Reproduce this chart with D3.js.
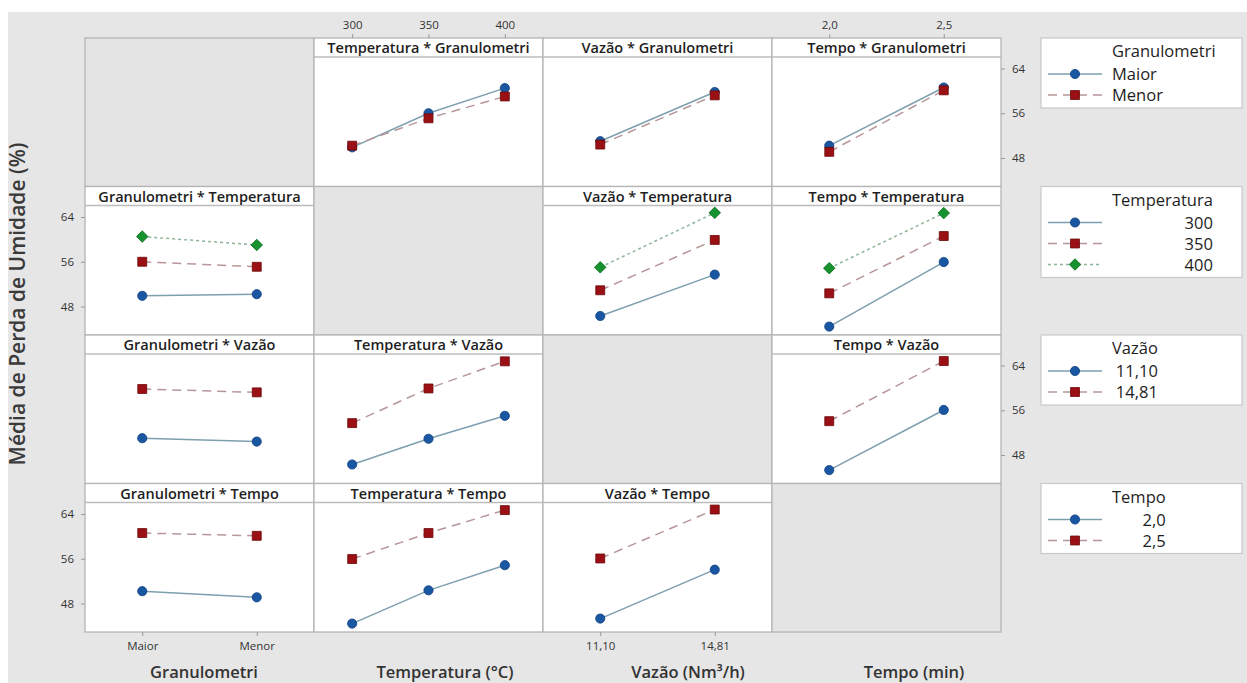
<!DOCTYPE html>
<html><head><meta charset="utf-8">
<script src="https://cdn.jsdelivr.net/npm/d3@7"></script>
<style>
body{margin:0;background:#fff;}
svg{display:block;font-family:"Open Sans",sans-serif;}
</style></head><body>
<svg id="chart" width="1247" height="683"></svg>
<script>
// factors and their levels
const factorNames=["Granulometri","Temperatura","Vazão","Tempo"];
const axisTitles=["Granulometri","Temperatura (°C)","Vazão (Nm³/h)","Tempo (min)"];
const granLevels=["Maior","Menor"];
const tempLevels=["300","350","400"];
const vazaoLevels=["11,10","14,81"];
const tempoLevels=["2,0","2,5"];
const yTicks=[48,56,64];

// mean moisture loss (%) for each pair of factors: rows = first factor, cols = second
const granTemp=[[49.9,56.0,60.5],[50.2,55.1,59.0]];
const granVazao=[[51.0,59.8],[50.4,59.2]];
const granTempo=[[50.2,60.6],[49.1,60.1]];
const tempVazao=[[46.3,53.7],[50.9,59.9],[55.0,64.75]];
const tempTempo=[[44.4,55.95],[50.35,60.6],[54.85,64.7]];
const vazaoTempo=[[45.3,56.05],[54.05,64.8]];

const levels=[granLevels,tempLevels,vazaoLevels,tempoLevels];
const pairMeans={"0-1":granTemp,"0-2":granVazao,"0-3":granTempo,"1-2":tempVazao,"1-3":tempTempo,"2-3":vazaoTempo};

function cellMeans(trace,xf){
  if(trace<xf) return pairMeans[trace+"-"+xf];
  let m=pairMeans[xf+"-"+trace];
  return m[0].map((_,k)=>m.map(r=>r[k]));
}

let svg=d3.select("#chart");
let x0=85,y0=38,cw=229,ch=148.5,strip=19;
let gridW=cw*4,gridH=ch*4;

svg.append("rect").attr("x",8).attr("y",12).attr("width",1239).attr("height",671).attr("fill","#e6e6e6");

let styles=[
  {fill:"#1a57a3",stroke:"#0f3f7d",line:"#7d9fae",dash:null,shape:"circle"},
  {fill:"#9a1014",stroke:"#6b0709",line:"#b79699",dash:"9,6",shape:"square"},
  {fill:"#16932f",stroke:"#0b6a1e",line:"#8db598",dash:"3,3",shape:"diamond"}
];

function marker(g,st,x,y){
  if(st.shape=="circle"){
    g.append("circle").attr("cx",x).attr("cy",y).attr("r",4.6)
      .attr("fill",st.fill).attr("stroke",st.stroke).attr("stroke-width",0.8);
  } else {
    g.append("path").attr("d",d3.symbol(d3.symbolSquare,st.shape=="square"?80:66)())
      .attr("transform","translate("+x+","+y+")"+(st.shape=="diamond"?" rotate(45)":""))
      .attr("fill",st.fill).attr("stroke",st.stroke).attr("stroke-width",0.8);
  }
}

for(let i=0;i<4;i++){
  for(let j=0;j<4;j++){
    let cx=x0+j*cw, cy=y0+i*ch;
    let cell=svg.append("g");
    if(i==j){
      cell.append("rect").attr("x",cx).attr("y",cy).attr("width",cw).attr("height",ch)
        .attr("fill","#e4e4e4").attr("stroke","#b5b5b5").attr("stroke-width",1.3);
      continue;
    }
    cell.append("rect").attr("x",cx).attr("y",cy).attr("width",cw).attr("height",ch)
      .attr("fill","#fff").attr("stroke","#b5b5b5").attr("stroke-width",1.3);
    cell.append("line").attr("x1",cx).attr("x2",cx+cw).attr("y1",cy+strip).attr("y2",cy+strip)
      .attr("stroke","#bdbdbd").attr("stroke-width",1.3);
    cell.append("text").attr("x",cx+cw/2).attr("y",cy+15).attr("text-anchor","middle")
      .attr("font-size",14.5).attr("font-weight",600).attr("fill","#1e1e1e")
      .text(factorNames[j]+" * "+factorNames[i]);

    let xs=d3.scalePoint().domain(levels[j]).range([cx,cx+cw]).padding(0.5);
    let ys=d3.scaleLinear().domain([42.9,66.06]).range([cy+ch,cy+strip]);
    let m=cellMeans(i,j);
    m.forEach(function(row,k){
      let st=styles[k];
      let line=d3.line().x((d,n)=>xs(levels[j][n])).y(d=>ys(d));
      cell.append("path").datum(row).attr("d",line).attr("fill","none")
        .attr("stroke",st.line).attr("stroke-width",1.5)
        .attr("stroke-dasharray",st.dash);
      row.forEach(function(v,n){ marker(cell,st,xs(levels[j][n]),ys(v)); });
    });
  }
}

// x axes (alternating bottom / top)
for(let j=0;j<4;j++){
  let cx=x0+j*cw;
  let xs=d3.scalePoint().domain(levels[j]).range([cx,cx+cw]).padding(0.5);
  let top=(j%2==1);
  let ax=svg.append("g")
    .attr("transform","translate(0,"+(top?y0:y0+gridH)+")")
    .call((top?d3.axisTop(xs):d3.axisBottom(xs)).tickSize(4).tickPadding(top?5:6));
  ax.select(".domain").remove();
  ax.selectAll("line").attr("stroke","#999");
  ax.selectAll("text").attr("font-size",11.5).attr("fill","#333")
    .attr("font-family","'Open Sans',sans-serif");
}

// y axes (alternating right / left)
for(let i=0;i<4;i++){
  let cy=y0+i*ch;
  let ys=d3.scaleLinear().domain([42.9,66.06]).range([cy+ch,cy+strip]);
  let left=(i%2==1);
  let ax=svg.append("g")
    .attr("transform","translate("+(left?x0:x0+gridW)+",0)")
    .call((left?d3.axisLeft(ys):d3.axisRight(ys)).tickValues(yTicks).tickSize(4).tickPadding(7));
  ax.select(".domain").remove();
  ax.selectAll("line").attr("stroke","#999");
  ax.selectAll("text").attr("font-size",11.5).attr("fill","#333")
    .attr("font-family","'Open Sans',sans-serif");
}

// axis titles
let titleX=[204,445,688,914];
axisTitles.forEach(function(t,j){
  svg.append("text").attr("x",titleX[j]).attr("y",678).attr("text-anchor","middle")
    .attr("font-size",16.5).attr("font-weight",600).attr("fill","#333").text(t);
});
svg.append("text").attr("transform","translate(25,304) rotate(-90)").attr("text-anchor","middle")
  .attr("font-size",21).attr("font-weight",600).attr("fill","#3a3a3a")
  .text("Média de Perda de Umidade (%)");

// legends, one per row
for(let i=0;i<4;i++){
  let ly=y0+i*ch, lx=1041, n=levels[i].length;
  let g=svg.append("g");
  g.append("rect").attr("x",lx).attr("y",ly).attr("width",201).attr("height",28+21*n)
    .attr("fill","#fff").attr("stroke","#c8c8c8").attr("stroke-width",1.2);
  let tt=g.append("text").attr("x",1112).attr("y",ly+19).attr("font-size",16.5)
    .attr("font-weight",500).attr("fill","#1e1e1e").text(factorNames[i]);
  let tw=tt.node().getComputedTextLength();
  levels[i].forEach(function(lv,k){
    let ey=ly+36+21*k, st=styles[k];
    g.append("line").attr("x1",1048).attr("x2",1102).attr("y1",ey).attr("y2",ey)
      .attr("stroke",st.line).attr("stroke-width",1.5).attr("stroke-dasharray",st.dash);
    marker(g,st,1075,ey);
    let numeric=(i!=0);
    g.append("text").attr("x",numeric?1112+tw:1112).attr("y",ey+6)
      .attr("text-anchor",numeric?"end":"start").attr("font-size",16.5)
      .attr("font-weight",500).attr("fill","#1e1e1e").text(lv);
  });
}
</script>
</body></html>
